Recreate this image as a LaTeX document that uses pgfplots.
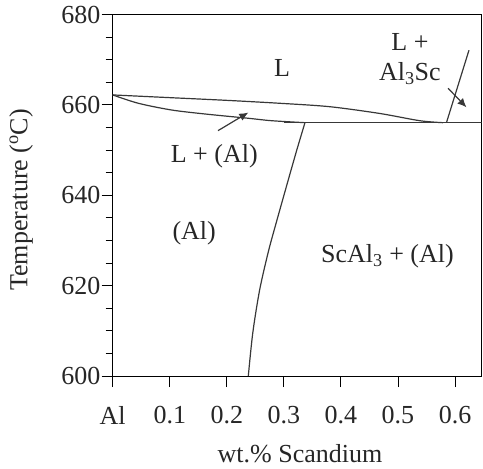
\documentclass[border=0pt]{standalone}
\usepackage{fontspec}
\setmainfont{Liberation Serif}
\usepackage{pgfplots}
\pgfplotsset{compat=1.18}
\usetikzlibrary{arrows.meta}
\newcommand\bigf{\fontsize{26}{30}\selectfont}
\definecolor{ln}{HTML}{383838}
\begin{document}
\begin{tikzpicture}
\begin{axis}[
  scale only axis,
  width=369pt, height=361.5pt,
  xmin=0, xmax=0.6468, ymin=600, ymax=680,
  xtick={0,0.1,0.2,0.3,0.4,0.5,0.6},
  xticklabels={Al,0.1,0.2,0.3,0.4,0.5,0.6},
  ytick={600,620,640,660,680},
  minor ytick={605,610,615,625,630,635,645,650,655,665,670,675},
  tick pos=left,
  tick align=outside,
  major tick length=11pt,
  minor tick length=7pt,
  every tick/.style={black, line width=0.9pt},
  axis line style={black, line width=0.9pt},
  /pgf/number format/assume math mode=true,
  tick label style={font=\bigf, text=black!85},
  yticklabel style={inner sep=1pt},
  xticklabel style={inner sep=1pt, yshift=-18pt},
  label style={font=\bigf, text=black!85},
  xlabel={wt.\% Scandium},
  ylabel={Temperature (\textsuperscript{o}C)},
  xlabel style={at={(axis description cs:0.5076,-0.2144)}, anchor=center},
  ylabel style={at={(axis description cs:-0.2485,0.487)}, anchor=center, rotate=0},
  clip=true,
]
% liquidus
\addplot[ln, line width=1.2pt, smooth] coordinates {
 (0,662.2) (0.10,661.6) (0.20,661.0) (0.293,660.35) (0.38,659.6) (0.468,658.1) (0.538,656.5) (0.579,656.06)
};
% solidus
\addplot[ln, line width=1.2pt, smooth] coordinates {
 (0,662.2) (0.045,660.35) (0.103,658.87) (0.162,657.98) (0.238,657.03) (0.278,656.5) (0.337,656.06)
};
% eutectic horizontal
\addplot[ln, line width=1.2pt] coordinates {(0.30,656.06) (0.6468,656.06)};
% solvus
\addplot[ln, line width=1.2pt, smooth] coordinates {
 (0.337,656.06) (0.3215,649.5) (0.3035,641.5) (0.2868,634) (0.2728,627.5) (0.2575,619) (0.2455,609.5) (0.2377,600)
};
% Al3Sc liquidus
\addplot[ln, line width=1.2pt] coordinates {(0.585,656.06) (0.6245,672.1)};
% arrows
\addplot[ln, line width=1.2pt, -{Latex[length=9pt,width=8pt]}] coordinates {(0.1846,654.3) (0.2377,658.3)};
\addplot[ln, line width=1.2pt, -{Latex[length=9pt,width=8pt]}] coordinates {(0.5879,663.67) (0.6201,659.46)};
% labels
\node[font=\bigf, text=black!85] at (axis cs:0.297,668.1) {L};
\node[font=\bigf, text=black!85, align=center] at (axis cs:0.521,670.2) {L +\\Al\textsubscript{3}Sc};
\node[font=\bigf, text=black!85] at (axis cs:0.178,648.7) {L + (Al)};
\node[font=\bigf, text=black!85] at (axis cs:0.1428,631.6) {(Al)};
\node[font=\bigf, text=black!85] at (axis cs:0.4817,626.4) {ScAl\textsubscript{3} + (Al)};
\end{axis}
\pgfresetboundingbox
\path ([shift={(-112.7pt,-92pt)}]current axis.south west) rectangle ([shift={(1.3pt,14.5pt)}]current axis.north east);
\end{tikzpicture}
\end{document}
